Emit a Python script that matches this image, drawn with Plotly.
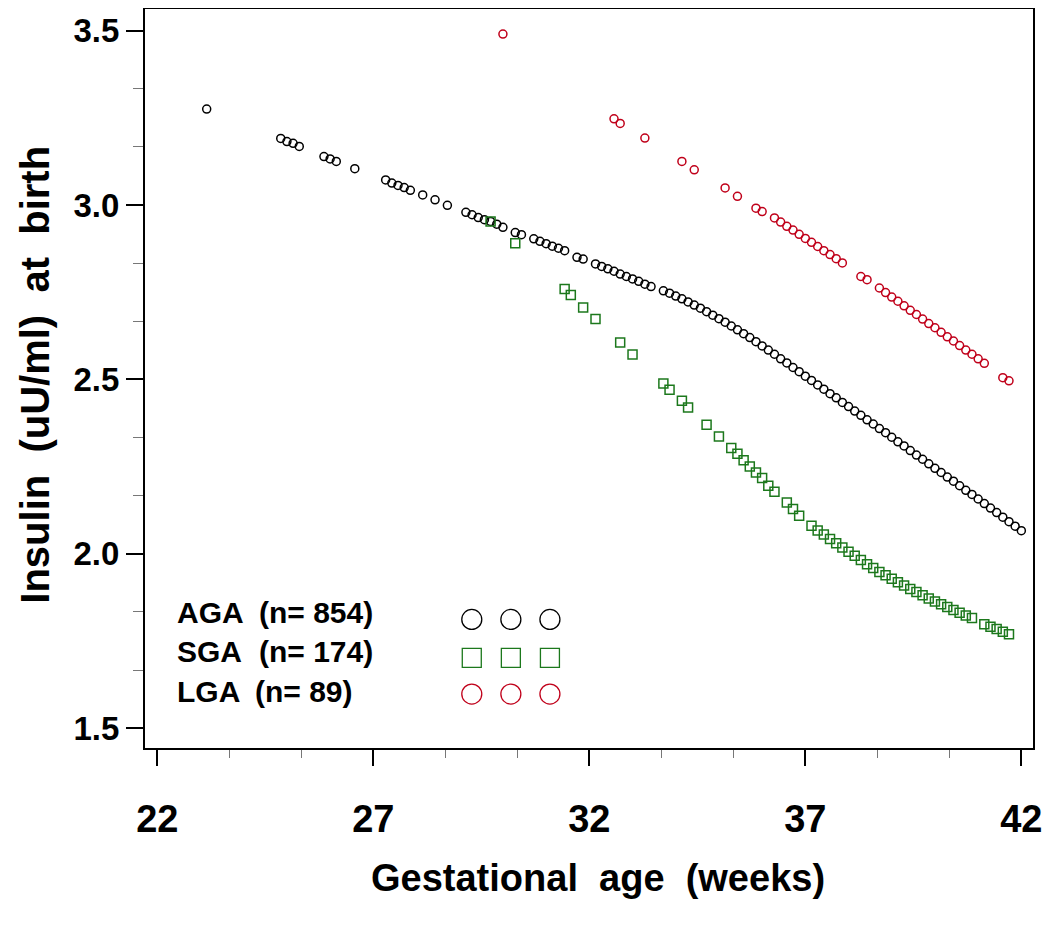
import numpy as np
import plotly.graph_objects as go

aga_days = [162, 174, 175, 176, 177, 181, 182, 183, 186, 191, 192, 193, 194, 195,
            197, 199, 201, 204, 205, 206, 207, 208, 209, 210, 212, 213,
            215, 216, 217, 218, 219, 220, 222, 223,
            225, 226, 227, 228, 229, 230, 231, 232, 233, 234,
            236, 237, 238, 239, 240, 241, 242, 243, 244, 245, 246, 247, 248, 249,
            250, 251, 252, 253, 254, 255, 256, 257, 258, 259, 260, 261, 262, 263,
            264, 265, 266, 267, 268, 269, 270, 271, 272, 273, 274, 275, 276, 277,
            278, 279, 280, 281, 282, 283, 284, 285, 286, 287, 288, 289, 290, 291,
            292, 293, 294]
aga_insulin = [3.275, 3.191, 3.182, 3.177, 3.168, 3.139, 3.132, 3.125, 3.104, 3.072,
               3.063, 3.056, 3.050, 3.042, 3.029, 3.015, 2.999, 2.979, 2.972, 2.964,
               2.958, 2.953, 2.945, 2.936, 2.921, 2.915,
               2.903, 2.896, 2.889, 2.882, 2.876, 2.869, 2.850, 2.845,
               2.831, 2.824, 2.817, 2.810, 2.802, 2.795, 2.788, 2.781, 2.773, 2.766,
               2.754, 2.747, 2.739, 2.731, 2.722, 2.713, 2.704, 2.694, 2.684, 2.674,
               2.664, 2.653, 2.642, 2.631, 2.620, 2.608, 2.596, 2.584, 2.572, 2.559,
               2.547, 2.534, 2.522, 2.509, 2.497, 2.484, 2.472, 2.459, 2.447, 2.434,
               2.422, 2.409, 2.397, 2.384, 2.372, 2.359, 2.347, 2.334, 2.321, 2.309,
               2.296, 2.283, 2.271, 2.258, 2.245, 2.233, 2.220, 2.208, 2.195, 2.182,
               2.170, 2.157, 2.144, 2.131, 2.118, 2.105, 2.092, 2.079, 2.066]

sga_days = [208, 212, 220, 221, 223, 225, 229, 231, 236, 237, 239, 240, 243, 245,
            247, 248, 249, 250, 251, 252, 253, 254, 256, 257, 258,
            260, 261, 262, 263, 264, 265, 266, 267, 268, 269, 270, 271, 272, 273,
            274, 275, 276, 277, 278, 279, 280, 281, 282, 283, 284, 285, 286,
            288, 289, 290, 291, 292]
sga_insulin = [2.953, 2.890, 2.759, 2.742, 2.706, 2.673, 2.606, 2.571, 2.488, 2.470,
               2.439, 2.419, 2.370, 2.336,
               2.303, 2.287, 2.268, 2.250, 2.233, 2.217, 2.195, 2.178, 2.147, 2.128, 2.109,
               2.080, 2.067, 2.055, 2.042, 2.030, 2.018, 2.006, 1.994, 1.982, 1.970,
               1.959, 1.948, 1.938, 1.928, 1.918, 1.909, 1.899, 1.890, 1.881, 1.872,
               1.863, 1.855, 1.847, 1.839, 1.831, 1.823, 1.816,
               1.798, 1.791, 1.784, 1.776, 1.769]

lga_days = [210, 228, 229, 233, 239, 241, 246, 248, 251, 252,
            254, 255, 256, 257, 258, 259, 260, 261, 262, 263, 264, 265, 268, 269,
            271, 272, 273, 274, 275, 276, 277, 278, 279, 280, 281, 282, 283, 284,
            285, 286, 287, 288, 291, 292]
lga_insulin = [3.490, 3.247, 3.234, 3.192, 3.125, 3.101, 3.049, 3.025, 2.991, 2.981,
               2.963, 2.951, 2.939, 2.928, 2.916, 2.904, 2.893, 2.881, 2.869, 2.858,
               2.846, 2.834, 2.795, 2.786,
               2.762, 2.749, 2.736, 2.724, 2.711, 2.698, 2.686, 2.673, 2.660, 2.648,
               2.635, 2.622, 2.610, 2.597, 2.584, 2.572, 2.559, 2.546, 2.505, 2.496]

group_labels = ["AGA", "SGA", "LGA"]
group_counts = ["(n= 854)", "(n= 174)", "(n= 89)"]

x_ticks = [22, 27, 32, 37, 42]
y_ticks = [1.5, 2.0, 2.5, 3.0, 3.5]

BLACK = "#000000"
GREEN = "#1c781c"
RED = "#c0001a"
FONT = "Liberation Sans, Arial, sans-serif"

fig = go.Figure()

series = [
    (aga_days, aga_insulin, "circle-open", 8, BLACK),
    (sga_days, sga_insulin, "square-open", 9, GREEN),
    (lga_days, lga_insulin, "circle-open", 8, RED),
]
for days, vals, symbol, size, color in series:
    fig.add_trace(go.Scatter(
        x=np.array(days) / 7.0, y=vals, mode="markers",
        marker=dict(symbol=symbol, size=size, color=color, line=dict(width=1.5, color=color)),
        showlegend=False, hoverinfo="skip",
    ))

# hand-drawn style key: three big symbols per group on a hidden 0..1 overlay
key_cols = [0.368, 0.412, 0.456]
key_rows = [0.174, 0.122, 0.073]
key_style = [("circle-open", 20, BLACK), ("square-open", 19, GREEN), ("circle-open", 20, RED)]
for row, (symbol, size, color) in zip(key_rows, key_style):
    fig.add_trace(go.Scatter(
        x=key_cols, y=[row] * 3, mode="markers", xaxis="x2", yaxis="y2",
        marker=dict(symbol=symbol, size=size, color=color, line=dict(width=1.3, color=color)),
        showlegend=False, hoverinfo="skip",
    ))

text_rows = [0.183, 0.131, 0.077]
count_x = [0.126, 0.126, 0.122]
annotations = []
for lab, cnt, ty, cx in zip(group_labels, group_counts, text_rows, count_x):
    annotations.append(dict(text=lab, x=0.034, y=ty, xref="paper", yref="paper",
                            xanchor="left", yanchor="middle", showarrow=False,
                            font=dict(family=FONT, size=30, color=BLACK, weight="bold")))
    annotations.append(dict(text=cnt, x=cx, y=ty, xref="paper", yref="paper",
                            xanchor="left", yanchor="middle", showarrow=False,
                            font=dict(family=FONT, size=30, color=BLACK, weight="bold")))

annotations.append(dict(text="Gestational  age  (weeks)", x=0.510, y=-0.176,
                        xref="paper", yref="paper", xanchor="center", yanchor="middle",
                        showarrow=False,
                        font=dict(family=FONT, size=38, color=BLACK, weight="bold")))
annotations.append(dict(text="Insulin  (uU/ml)  at  birth", x=-0.124, y=0.505,
                        xref="paper", yref="paper", xanchor="center", yanchor="middle",
                        textangle=-90, showarrow=False,
                        font=dict(family=FONT, size=40, color=BLACK, weight="bold")))

# the page body adds an 8px offset, so the figure is drawn 8px smaller
fig.update_layout(
    template="none",
    width=1042, height=924,
    margin=dict(l=137, r=17, t=1, b=184),
    paper_bgcolor="white", plot_bgcolor="white",
    annotations=annotations,
    xaxis=dict(
        range=[21.715, 42.27], tickvals=x_ticks, ticktext=[str(t) for t in x_ticks],
        ticks="outside", ticklen=16, tickwidth=1.5, tickcolor=BLACK,
        showline=True, linecolor=BLACK, linewidth=2, mirror=True, automargin=False,
        showgrid=False, zeroline=False, ticklabelstandoff=20,
        tickfont=dict(family=FONT, size=38, color=BLACK, weight="bold"),
        minor=dict(tick0=22, dtick=5 / 3, ticks="outside", ticklen=8, tickwidth=1,
                   tickcolor="#777777", showgrid=False),
    ),
    yaxis=dict(
        range=[1.443, 3.562], tickvals=y_ticks, ticktext=[f"{t:.1f}" for t in y_ticks],
        ticks="outside", ticklen=17, tickwidth=1.5, tickcolor=BLACK,
        showline=True, linecolor=BLACK, linewidth=2, mirror=True, automargin=False,
        showgrid=False, zeroline=False, ticklabelstandoff=0,
        tickfont=dict(family=FONT, size=33, color=BLACK, weight="bold"),
        minor=dict(tick0=1.5, dtick=0.5 / 3, ticks="outside", ticklen=10, tickwidth=1,
                   tickcolor="#777777", showgrid=False),
    ),
    xaxis2=dict(overlaying="x", range=[0, 1], visible=False),
    yaxis2=dict(overlaying="y", range=[0, 1], visible=False),
)

fig.write_html("out.html")
